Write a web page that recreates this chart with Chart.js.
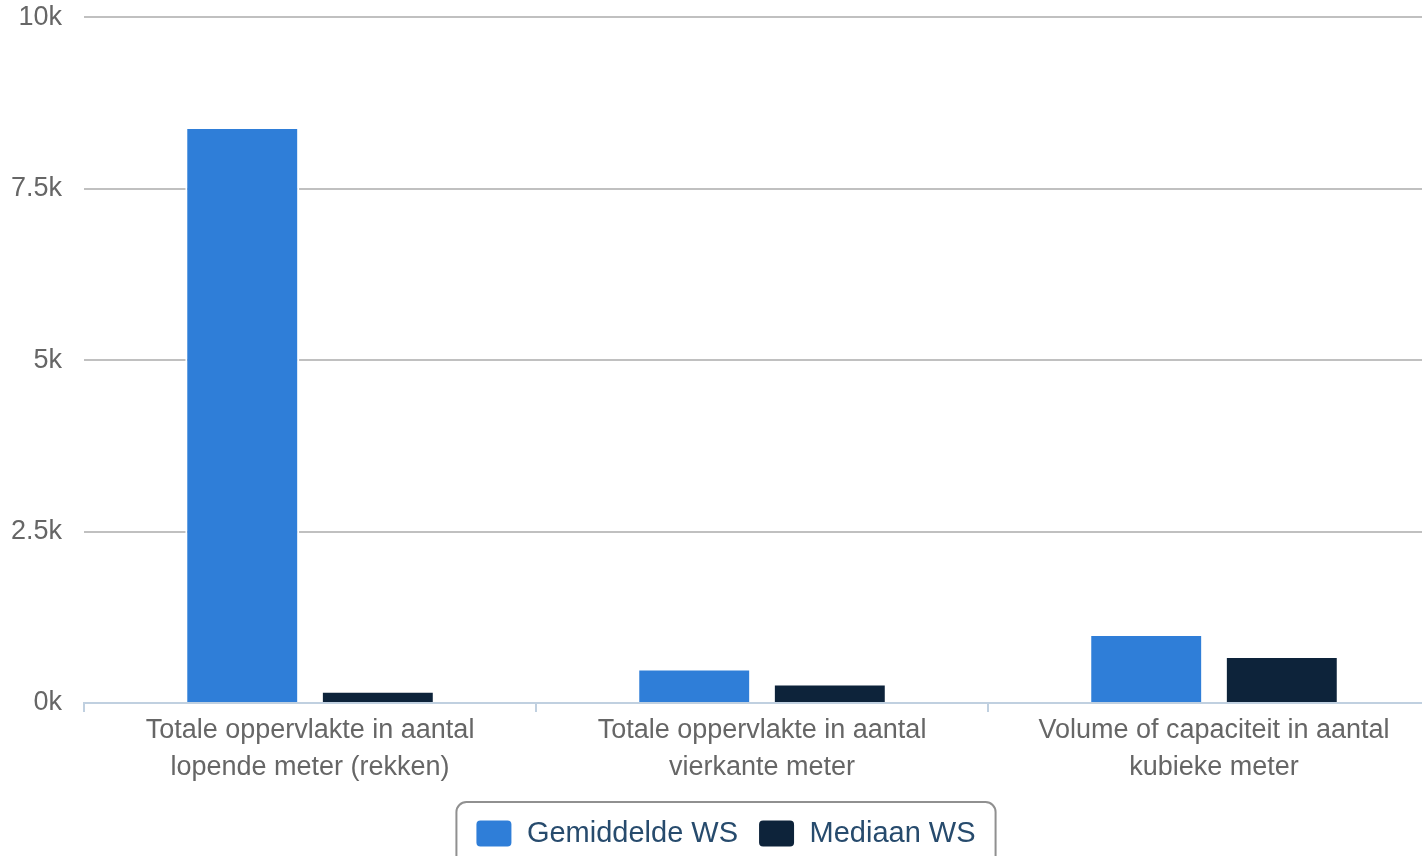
<!DOCTYPE html>
<html>
<head>
<meta charset="utf-8">
<script src="https://cdn.jsdelivr.net/npm/chart.js@4.4.1/dist/chart.umd.min.js"></script>
<style>
  html, body { margin: 0; padding: 0; background: #fff; overflow: hidden; }
  #wrap { position: relative; width: 1440px; height: 858px; }
</style>
</head>
<body>
<div id="wrap"><canvas id="chart"></canvas></div>
<script>
(function () {
    'use strict';

    // categorieën en reeksen
    var categories = [
        ['Totale oppervlakte in aantal', 'lopende meter (rekken)'],
        ['Totale oppervlakte in aantal', 'vierkante meter'],
        ['Volume of capaciteit in aantal', 'kubieke meter']
    ];
    var seriesNames = ['Gemiddelde WS', 'Mediaan WS'];
    var gemiddelde = [8400, 505, 1007];
    var mediaan = [180, 286, 686];
    var yTicks = [0, 2500, 5000, 7500, 10000];

    var colors = ['#2f7ed8', '#0d233a'];
    var font = '"Liberation Sans", Arial, Helvetica, sans-serif';

    // rand rond de legenda
    var legendBorder = {
        id: 'legendBorder',
        afterDraw: function (chart) {
            var boxes = chart.legend && chart.legend.legendHitBoxes;
            if (!boxes || !boxes.length) return;
            var first = boxes[0], last = boxes[boxes.length - 1];
            var x1 = first.left - 19, x2 = last.left + last.width + 20;
            var y1 = first.top - 17, y2 = first.top + first.height + 30;
            var r = 10;
            var ctx = chart.ctx;
            ctx.save();
            ctx.strokeStyle = '#909090';
            ctx.lineWidth = 2;
            ctx.beginPath();
            ctx.moveTo(x1 + r, y1);
            ctx.lineTo(x2 - r, y1);
            ctx.arcTo(x2, y1, x2, y1 + r, r);
            ctx.lineTo(x2, y2 - r);
            ctx.arcTo(x2, y2, x2 - r, y2, r);
            ctx.lineTo(x1 + r, y2);
            ctx.arcTo(x1, y2, x1, y2 - r, r);
            ctx.lineTo(x1, y1 + r);
            ctx.arcTo(x1, y1, x1 + r, y1, r);
            ctx.stroke();
            ctx.restore();
        }
    };

    new Chart(document.getElementById('chart'), {
        type: 'bar',
        data: {
            labels: categories,
            datasets: [gemiddelde, mediaan].map(function (vals, i) {
                return {
                    label: seriesNames[i],
                    data: vals,
                    backgroundColor: colors[i],
                    borderColor: '#ffffff',
                    borderWidth: 2,
                    borderSkipped: 'start',
                    categoryPercentage: 0.6,
                    barPercentage: 0.84
                };
            })
        },
        options: {
            responsive: true,
            maintainAspectRatio: false,
            animation: false,
            layout: { padding: { left: 11, right: 0, top: 6, bottom: 0 } },
            plugins: {
                tooltip: { enabled: false },
                legend: {
                    position: 'bottom',
                    labels: {
                        color: '#274b6d',
                        font: { family: font, size: 29 },
                        boxWidth: 37,
                        boxHeight: 28,
                        useBorderRadius: true,
                        borderRadius: 5,
                        padding: 20
                    }
                }
            },
            scales: {
                x: {
                    offset: true,
                    afterFit: function (scale) { scale.height += 13; },
                    border: { display: true, color: '#c0d0e0', width: 2 },
                    grid: {
                        offset: true,
                        drawOnChartArea: false,
                        drawTicks: true,
                        tickLength: 9,
                        color: '#c0d0e0',
                        lineWidth: 2
                    },
                    ticks: {
                        color: '#666666',
                        font: { family: font, size: 27, lineHeight: 1.37 },
                        padding: 0,
                        maxRotation: 0
                    }
                },
                y: {
                    min: 0,
                    max: 10000,
                    afterBuildTicks: function (axis) {
                        axis.ticks = yTicks.map(function (v) { return { value: v }; });
                    },
                    border: { display: false },
                    grid: {
                        drawTicks: true,
                        tickLength: 22,
                        tickColor: 'rgba(0,0,0,0)',
                        lineWidth: 2,
                        color: function (ctx) {
                            return ctx.tick && ctx.tick.value === 0 ? 'rgba(0,0,0,0)' : '#c0c0c0';
                        }
                    },
                    ticks: {
                        color: '#666666',
                        font: { family: font, size: 27, lineHeight: 1.28 },
                        padding: 0,
                        callback: function (v) { return (v / 1000) + 'k'; }
                    }
                }
            }
        },
        plugins: [legendBorder]
    });
})();
</script>
</body>
</html>
